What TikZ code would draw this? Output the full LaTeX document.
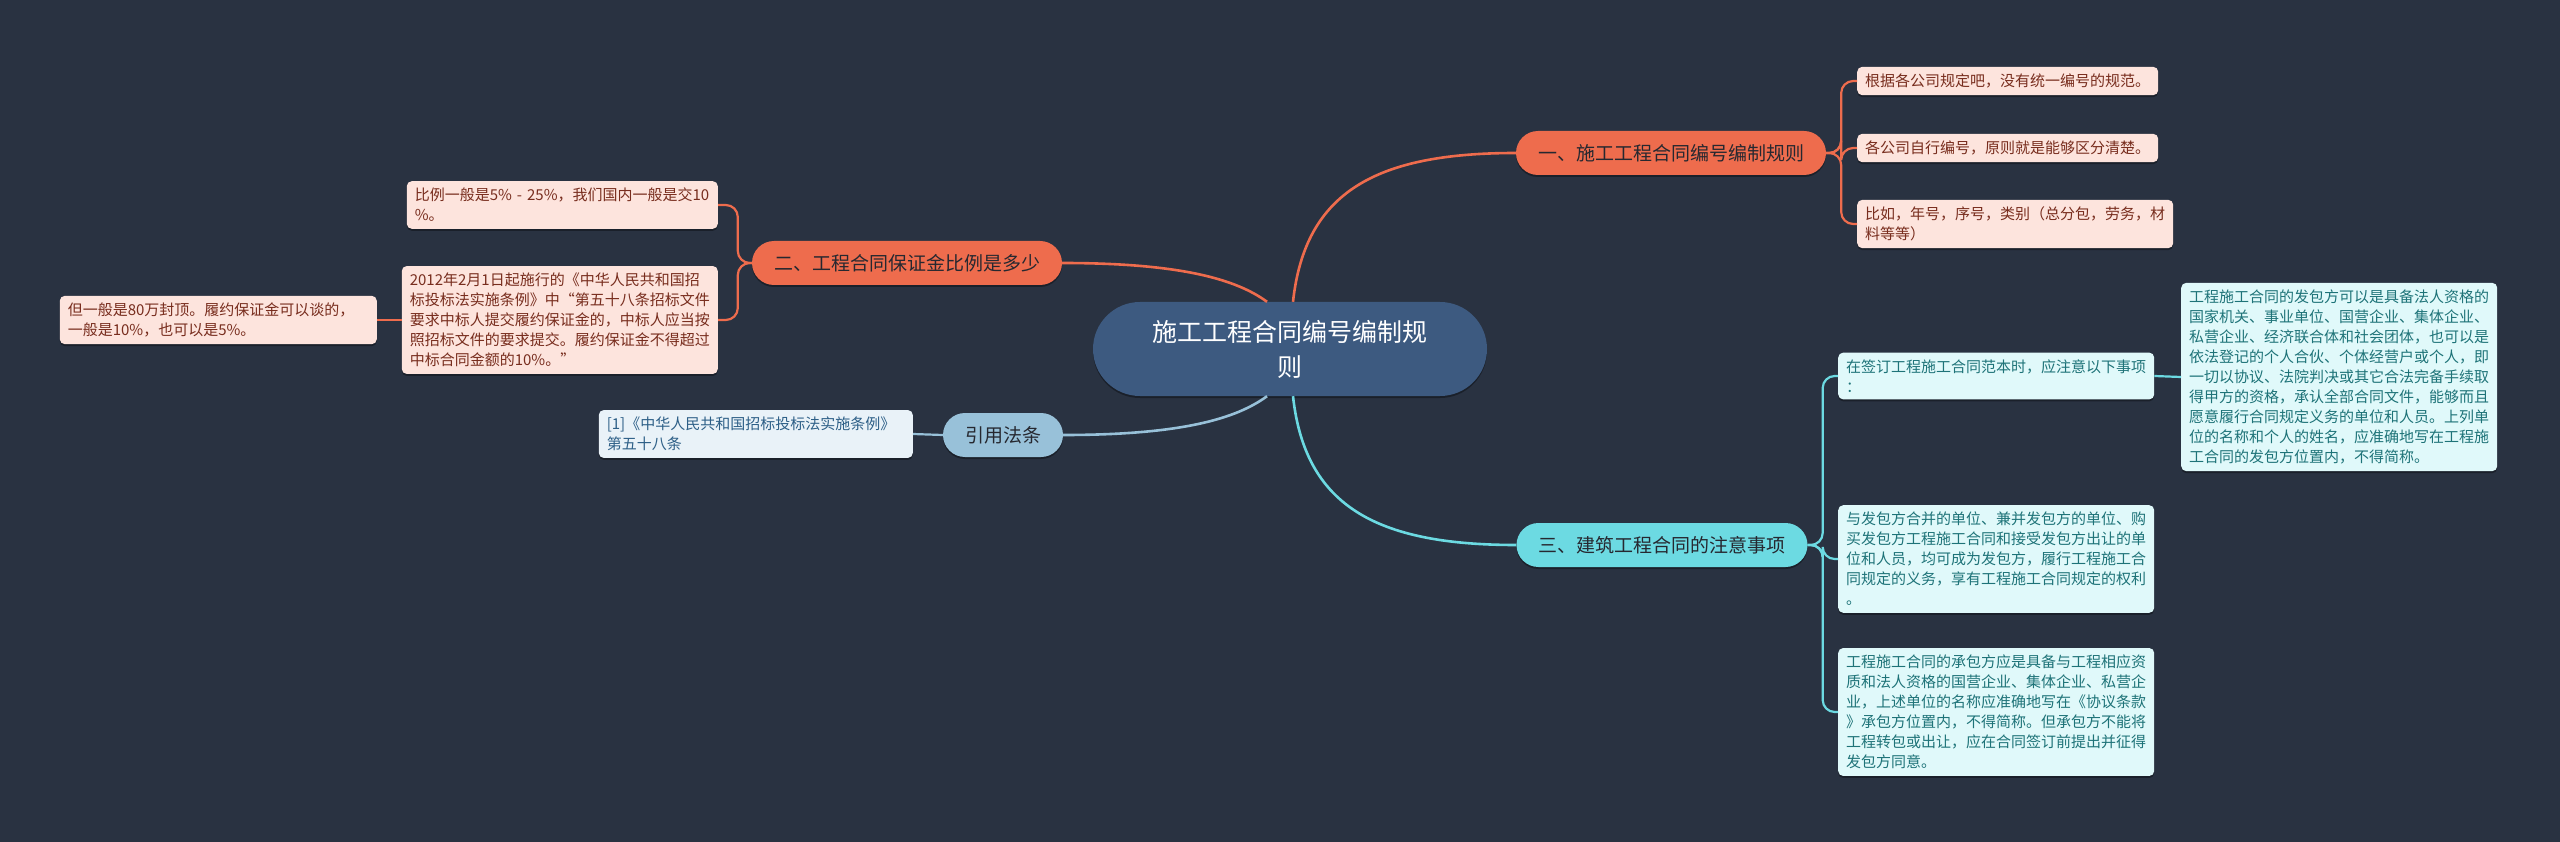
\documentclass[tikz,border=0pt]{standalone}
\usepackage{fontspec}
\setmainfont{Noto Sans CJK SC}
\usepackage{tikz}
\usetikzlibrary{shadows}
\definecolor{bgnight}{RGB}{41,50,65}
\definecolor{rootblue}{RGB}{61,90,128}
\definecolor{coral}{RGB}{238,108,77}
\definecolor{coralpale}{RGB}{253,228,221}
\definecolor{coralink}{RGB}{120,45,30}
\definecolor{skyblue}{RGB}{152,193,217}
\definecolor{skypale}{RGB}{233,242,248}
\definecolor{skyink}{RGB}{45,95,135}
\definecolor{aqua}{RGB}{108,218,226}
\definecolor{aquapale}{RGB}{224,249,250}
\definecolor{aquaink}{RGB}{30,115,120}
\definecolor{ink}{RGB}{38,40,48}

\begin{document}
\begin{tikzpicture}[x=1pt,y=-1pt,
  softshadow/.style={drop shadow={shadow xshift=0pt,shadow yshift=-2pt,opacity=0.35,fill=black}},
  rootbox/.style={softshadow,fill=rootblue,text=white,rounded corners=47pt,
     minimum width=394pt,minimum height=94pt,align=center,
     font=\fontsize{25}{35}\selectfont},
  topicbox/.style={softshadow,rounded corners=22pt,minimum height=44pt,
     inner xsep=22pt,text=ink,font=\fontsize{19}{23}\selectfont},
  leafbox/.style={softshadow,rounded corners=5pt,inner xsep=8pt,inner ysep=7pt,
     align=left,font=\fontsize{15}{20}\selectfont},
  warmleaf/.style={leafbox,fill=coralpale,text=coralink},
  coolleaf/.style={leafbox,fill=aquapale,text=aquaink},
  skyleaf/.style={leafbox,fill=skypale,text=skyink},
  mainlink/.style={line width=2.6pt},
  sublink/.style={line width=2.2pt,rounded corners=12pt}]
  \fill[bgnight] (0,0) rectangle (2560,842);
  % centre and the four topics
  \node[rootbox] (root) at (1290,349) {施工工程合同编号编制规\\则};
  \node[topicbox,fill=coral] (rule) at (1671,153) {一、施工工程合同编号编制规则};
  \node[topicbox,fill=coral] (bond) at (907,263) {二、工程合同保证金比例是多少};
  \node[topicbox,fill=aqua] (note) at (1662,545) {三、建筑工程合同的注意事项};
  \node[topicbox,fill=skyblue] (law) at (1003,435) {引用法条};
  % leaves
  \node[warmleaf,anchor=west] (rule1) at (1857,81) {根据各公司规定吧，没有统一编号的规范。};
  \node[warmleaf,anchor=west] (rule2) at (1857,148) {各公司自行编号，原则就是能够区分清楚。};
  \node[warmleaf,anchor=west] (rule3) at (1857,224)
     {比如，年号，序号，类别（总分包，劳务，材\\料等等）};
  \node[warmleaf,anchor=east,text width=295pt] (bond1) at (718,205)
     {比例一般是5\% - 25\%，我们国内一般是交10\\\%。};
  \node[warmleaf,anchor=east] (bond2) at (718,320)
     {2012年2月1日起施行的《中华人民共和国招\\标投标法实施条例》中“第五十八条招标文件\\要求中标人提交履约保证金的，中标人应当按\\照招标文件的要求提交。履约保证金不得超过\\中标合同金额的10\%。”};
  \node[warmleaf,anchor=east,text width=301pt] (bond21) at (377,320)
     {但一般是80万封顶。履约保证金可以谈的，\\一般是10\%，也可以是5\%。};
  \node[skyleaf,anchor=east,text width=298pt] (law1) at (913,434)
     {[1]《中华人民共和国招标投标法实施条例》\\第五十八条};
  \node[coolleaf,anchor=west] (note1) at (1838,376)
     {在签订工程施工合同范本时，应注意以下事项\\：};
  \node[coolleaf,anchor=west] (note11) at (2181,377)
     {工程施工合同的发包方可以是具备法人资格的\\国家机关、事业单位、国营企业、集体企业、\\私营企业、经济联合体和社会团体，也可以是\\依法登记的个人合伙、个体经营户或个人，即\\一切以协议、法院判决或其它合法完备手续取\\得甲方的资格，承认全部合同文件，能够而且\\愿意履行合同规定义务的单位和人员。上列单\\位的名称和个人的姓名，应准确地写在工程施\\工合同的发包方位置内，不得简称。};
  \node[coolleaf,anchor=west] (note2) at (1838,559)
     {与发包方合并的单位、兼并发包方的单位、购\\买发包方工程施工合同和接受发包方出让的单\\位和人员，均可成为发包方，履行工程施工合\\同规定的义务，享有工程施工合同规定的权利\\。};
  \node[coolleaf,anchor=west] (note3) at (1838,712)
     {工程施工合同的承包方应是具备与工程相应资\\质和法人资格的国营企业、集体企业、私营企\\业，上述单位的名称应准确地写在《协议条款\\》承包方位置内，不得简称。但承包方不能将\\工程转包或出让，应在合同签订前提出并征得\\发包方同意。};
  % connectors
  \draw[mainlink,coral] ([xshift=3pt]root.north) .. controls +(12,-110) and +(-140,0) .. (rule.west);
  \draw[mainlink,coral] (bond.east) .. controls +(120,0) and +(-30,-22) .. ([xshift=-23pt]root.north);
  \draw[mainlink,skyblue] (law.east) .. controls +(120,0) and +(-30,22) .. ([xshift=-23pt]root.south);
  \draw[mainlink,aqua] ([xshift=3pt]root.south) .. controls +(12,110) and +(-140,0) .. (note.west);
  \foreach \leaf in {rule1,rule2,rule3}
     \draw[sublink,coral] (rule.east) -- ++(15,0) |- (\leaf.west);
  \foreach \leaf in {bond1,bond2}
     \draw[sublink,coral] (bond.west) -- ++(-14,0) |- (\leaf.east);
  \foreach \leaf in {note1,note2,note3}
     \draw[sublink,aqua] (note.east) -- ++(15,0) |- (\leaf.west);
  \draw[sublink,coral] (bond2.west) -- (bond21.east);
  \draw[sublink,aqua] (note1.east) -- (note11.west);
  \draw[sublink,skyblue] (law.west) -- (law1.east);
\end{tikzpicture}
\end{document}
